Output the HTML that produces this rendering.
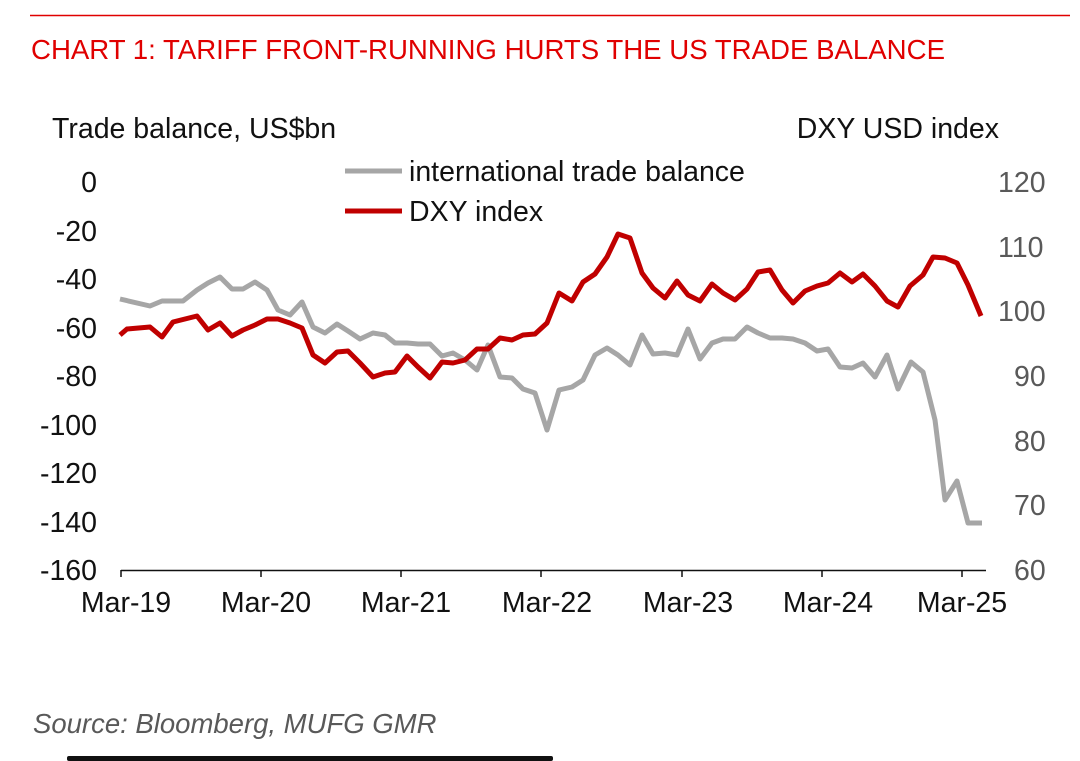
<!DOCTYPE html>
<html><head><style>
html,body{margin:0;padding:0;background:#fff;}
svg{display:block;}
text{font-family:"Liberation Sans",Arial,sans-serif;}
</style></head><body>
<svg width="1080" height="761" viewBox="0 0 1080 761">
<line x1="30" y1="15.5" x2="1070" y2="15.5" stroke="#e00000" stroke-width="1.5"/>
<text x="31" y="59" font-size="27.5" fill="#e00000" textLength="914" lengthAdjust="spacingAndGlyphs">CHART 1: TARIFF FRONT-RUNNING HURTS THE US TRADE BALANCE</text>
<text x="52" y="138" font-size="28.5" fill="#111">Trade balance, US$bn</text>
<text x="999" y="138" font-size="28.5" fill="#111" text-anchor="end">DXY USD index</text>
<g font-size="28.5" fill="#111" text-anchor="end">
<text x="97" y="192">0</text><text x="97" y="241">-20</text><text x="97" y="289">-40</text><text x="97" y="338">-60</text><text x="97" y="386">-80</text><text x="97" y="435">-100</text><text x="97" y="483">-120</text><text x="97" y="532">-140</text><text x="97" y="580">-160</text>
</g>
<g font-size="28.5" fill="#595959">
<text x="998" y="192">120</text><text x="998" y="257">110</text><text x="998" y="321">100</text><text x="1014" y="386">90</text><text x="1014" y="451">80</text><text x="1014" y="515">70</text><text x="1014" y="580">60</text>
</g>
<line x1="121" y1="570.5" x2="986" y2="570.5" stroke="#111" stroke-width="1.5"/>
<g stroke="#111" stroke-width="1.5">
<line x1="121" y1="570" x2="121" y2="577"/><line x1="261" y1="570" x2="261" y2="577"/><line x1="401" y1="570" x2="401" y2="577"/><line x1="541" y1="570" x2="541" y2="577"/><line x1="682" y1="570" x2="682" y2="577"/><line x1="822" y1="570" x2="822" y2="577"/><line x1="962" y1="570" x2="962" y2="577"/>
</g>
<g font-size="28.5" fill="#111" text-anchor="middle">
<text x="126" y="612">Mar-19</text><text x="266" y="612">Mar-20</text><text x="406" y="612">Mar-21</text><text x="547" y="612">Mar-22</text><text x="688" y="612">Mar-23</text><text x="828" y="612">Mar-24</text><text x="962" y="612">Mar-25</text>
</g>
<polyline fill="none" stroke="#a6a6a6" stroke-width="5" stroke-linejoin="round" points="120,299 150,306 162,301 183,301 197,290 208,283 220,277 232,289 243,289 255,282 267,290 278,310 290,315 302,302 313,327 325,333 337,324 348,331 360,339 373,333 385,335 395,343 407,343 418,344 430,344 442,356 453,353 465,360 477,370 488,345 500,377 512,378 523,389 535,393 547,430 559,390 572,387 583,380 595,355 607,348 618,355 630,365 642,335 653,354 665,353 677,355 688,329 700,359 712,343 723,339 735,339 747,327 758,333 770,338 782,338 793,339 805,343 817,351 828,349 840,367 852,368 863,363 875,377 887,355 898,389 911,362 923,372 935,420 945,500 957,481 968,523 982,523"/>
<polyline fill="none" stroke="#c00000" stroke-width="5" stroke-linejoin="round" points="120,335 127,329 150,327 162,337 173,322 197,316 208,330 220,323 232,336 243,330 255,325 267,319 278,319 290,323 302,328 313,355 325,363 337,352 348,351 360,363 373,377 385,373 395,372 407,356 418,367 430,378 442,362 453,363 465,360 477,349 488,349 500,338 512,340 523,335 535,334 547,323 559,293 572,301 583,282 595,274 607,257 618,234 630,238 642,273 653,288 665,298 677,281 688,295 700,301 712,284 723,293 735,300 747,289 758,272 770,270 782,290 793,303 805,291 817,286 828,283 840,273 852,282 863,274 875,286 887,301 898,307 910,286 923,275 933,257 945,258 957,263 968,285 981,316"/>
<line x1="345" y1="171" x2="402" y2="171" stroke="#a6a6a6" stroke-width="5"/>
<text x="409" y="181" font-size="28.5" fill="#111">international trade balance</text>
<line x1="345" y1="211" x2="402" y2="211" stroke="#c00000" stroke-width="5"/>
<text x="409" y="221" font-size="28.5" fill="#111">DXY index</text>
<text x="33" y="733" font-size="27.5" font-style="italic" fill="#595959">Source: Bloomberg, MUFG GMR</text>
<rect x="67" y="756" width="486" height="5" rx="2" fill="#111"/>
</svg>
</body></html>
